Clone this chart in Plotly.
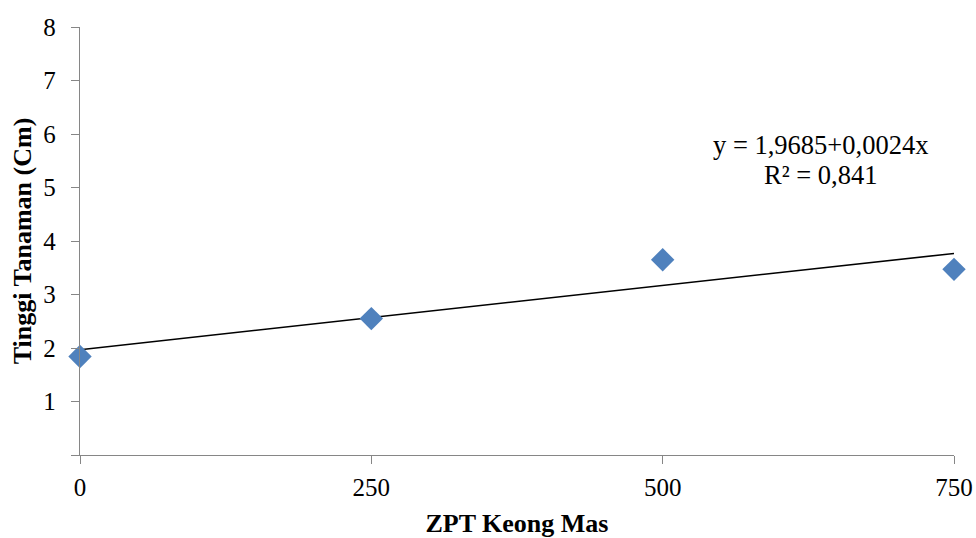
import plotly.graph_objects as go
import numpy as np

# Data
dose = [0, 250, 500, 750]
height = [1.84, 2.55, 3.65, 3.47]
intercept = 1.9685
slope = 0.0024
eq_line1 = "y = 1,9685+0,0024x"
eq_line2 = "R² = 0,841"
x_ticks = [0, 250, 500, 750]
y_ticks = [0, 1, 2, 3, 4, 5, 6, 7, 8]
y_ticklabels = ["", "1", "2", "3", "4", "5", "6", "7", "8"]

trend_x = np.array([min(dose), max(dose)])
trend_y = intercept + slope * trend_x

fig = go.Figure()
fig.add_trace(go.Scatter(x=trend_x, y=trend_y, mode="lines",
                         line=dict(color="black", width=1.5), showlegend=False))
fig.add_trace(go.Scatter(x=dose, y=height, mode="markers",
                         marker=dict(symbol="diamond", size=18, color="#4F81BD"),
                         showlegend=False, cliponaxis=False))

font = "Liberation Serif, Times New Roman, Times, serif"
fs = 25
tfs = 26
fig.update_layout(
    width=976, height=538,
    margin=dict(l=80, r=22, t=27, b=83),
    paper_bgcolor="white", plot_bgcolor="white",
    font=dict(family=font, size=fs, color="black"),
    xaxis=dict(range=[0, 750], tickvals=x_ticks, ticks="outside", ticklen=8,
               tickcolor="#868686", showline=True, linecolor="#868686", linewidth=1.3,
               showgrid=False, zeroline=False, ticklabelstandoff=2, automargin=False,
               tickfont=dict(size=fs, family=font, color="black"),
               title=dict(text="<b>ZPT Keong Mas</b>", font=dict(size=tfs, family=font, color="black"), standoff=24)),
    yaxis=dict(range=[0, 8], tickvals=y_ticks, ticktext=y_ticklabels, ticks="outside",
               ticklen=8, tickcolor="#868686", showline=True, linecolor="#868686",
               linewidth=1.3, showgrid=False, zeroline=False, ticklabelstandoff=10,
               automargin=False,
               tickfont=dict(size=fs, family=font, color="black"),
               title=dict(text="<b>Tinggi Tanaman (Cm)</b>", font=dict(size=tfs, family=font, color="black"), standoff=4)),
    annotations=[
        dict(x=0.847, y=0.724, xref="paper", yref="paper", text=eq_line1,
             showarrow=False, xanchor="center", yanchor="middle",
             font=dict(size=26.5, family=font, color="black")),
        dict(x=0.847, y=0.654, xref="paper", yref="paper", text=eq_line2,
             showarrow=False, xanchor="center", yanchor="middle",
             font=dict(size=26.5, family=font, color="black")),
    ],
)
fig.write_html("out.html")
